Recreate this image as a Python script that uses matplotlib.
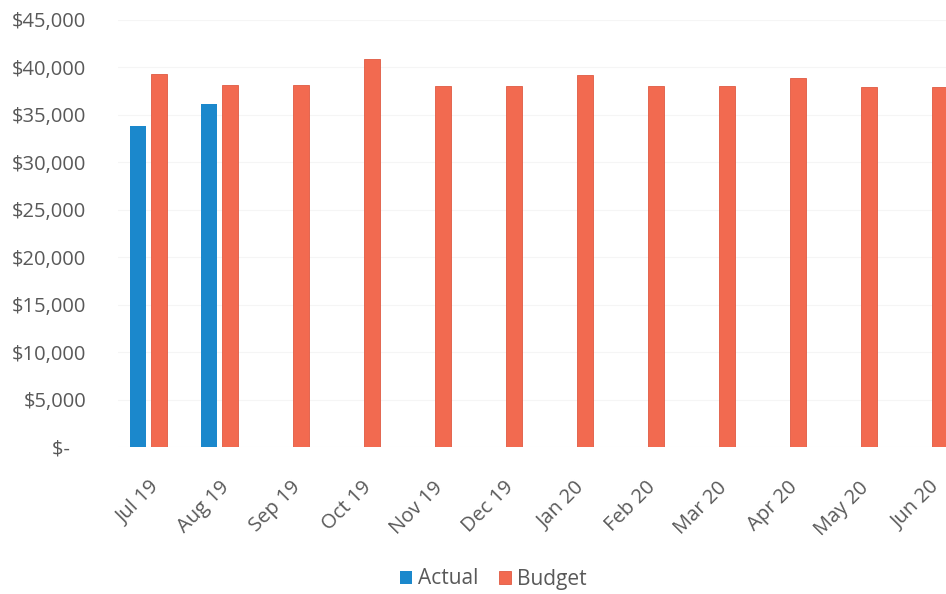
import matplotlib
matplotlib.use("Agg")
import matplotlib.pyplot as plt
import numpy as np

months = ["Jul 19", "Aug 19", "Sep 19", "Oct 19", "Nov 19", "Dec 19",
          "Jan 20", "Feb 20", "Mar 20", "Apr 20", "May 20", "Jun 20"]
actual = [33850, 36200]
budget = [39300, 38150, 38150, 40850, 38050, 38050,
          39250, 38000, 38000, 38900, 37900, 37900]
yticks = [0, 5000, 10000, 15000, 20000, 25000, 30000, 35000, 40000, 45000]

BLUE = "#1B88CC"
RED = "#F26A50"
TEXT = "#595959"

plt.rcParams["font.family"] = ["Open Sans", "DejaVu Sans"]

W, H = 946, 594
fig = plt.figure(figsize=(W / 100, H / 100), dpi=100)
left_px, top_px, bottom_px = 118, 20, 447
ax = fig.add_axes([left_px / W, 1 - bottom_px / H, 1 - left_px / W, (bottom_px - top_px) / H])

x = np.arange(len(months))
width = 0.225
off = 0.145
ax.bar(x[:len(actual)] - off, actual, width, color=BLUE, label="Actual", zorder=3)
ax.bar(x + off, budget, width, color=RED, edgecolor="#E05A42", linewidth=0.6,
       label="Budget", zorder=3)

spacing = 71.0
center0 = 148.75
ax.set_xlim((left_px - center0) / spacing, (W - center0) / spacing)
ax.set_ylim(0, 45000)

ax.set_yticks(yticks)
ax.set_yticklabels(["$-   "] + [f"${v:,}" for v in yticks[1:]])
ax.set_xticks(x)
ax.set_xticklabels(months, rotation=45, ha="right", rotation_mode="anchor")

ax.tick_params(axis="y", length=0, pad=23, labelsize=14.5, labelcolor=TEXT)
ax.tick_params(axis="x", length=0, pad=22, labelsize=14.5, labelcolor=TEXT)

ax.grid(axis="y", color="#F5F5F5", linewidth=0.8, zorder=0)
for s in ax.spines.values():
    s.set_visible(False)

fig.legend(loc="center", bbox_to_anchor=(493 / W, 1 - 579 / H), ncol=2,
           frameon=False, fontsize=15, labelcolor=TEXT, handlelength=0.6,
           handleheight=0.6, handletextpad=0.25, columnspacing=1.0)

fig.savefig("out.png", dpi=100)
